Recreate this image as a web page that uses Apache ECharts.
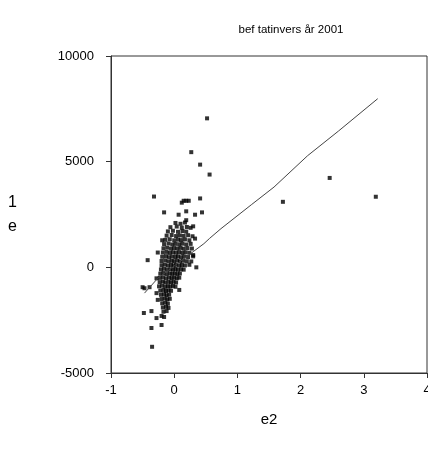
<!DOCTYPE html>
<html>
<head>
<meta charset="utf-8">
<script src="https://cdn.jsdelivr.net/npm/echarts@6.0.0/dist/echarts.min.js"></script>
<style>
  html, body { margin: 0; padding: 0; background: #fff; }
  #chart { width: 428px; height: 450px; }
</style>
</head>
<body>
<div id="chart"></div>
<script>
// residual pairs [e2, e1]
const outliers = [
  [0.52, 7050], [0.27, 5450], [0.41, 4860], [0.56, 4390], [-0.32, 3350],
  [1.72, 3100], [2.46, 4230], [3.19, 3340], [0.15, 3150], [0.19, 3150],
  [0.23, 3150], [0.12, 3060], [0.41, 3260], [-0.16, 2600], [0.19, 2650],
  [0.44, 2600], [0.07, 2490], [0.33, 2490], [0.19, 2230], [0.30, 1940],
  [-0.19, 1280], [0.33, 1360], [0.30, 580], [0.27, 280], [0.35, 0],
  [-0.42, 340], [-0.26, 700], [-0.47, -990], [-0.39, -940], [-0.28, -520],
  [0.08, -1070], [-0.28, -1220], [-0.26, -1540], [-0.48, -2160], [-0.36, -2070],
  [-0.28, -2400], [-0.20, -2300], [-0.16, -2350], [-0.36, -2870], [-0.20, -2730],
  [-0.35, -3760], [-0.50, -940]
];

const core = [
  [0.02, 2100], [0.10, 2060], [0.17, 2120],
  [-0.06, 1900], [0.04, 1930], [0.12, 1880], [0.20, 1910], [0.26, 1870],
  [-0.10, 1700], [-0.02, 1730], [0.06, 1680], [0.13, 1720], [0.19, 1690],
  [-0.12, 1500], [-0.04, 1530], [0.03, 1480], [0.09, 1510], [0.15, 1490], [0.22, 1520], [0.29, 1470],
  [-0.14, 1300], [-0.07, 1330], [0.00, 1280], [0.06, 1310], [0.11, 1290], [0.17, 1320], [0.24, 1280],
  [-0.16, 1100], [-0.09, 1130], [-0.03, 1080], [0.02, 1110], [0.08, 1090], [0.13, 1120], [0.19, 1080], [0.26, 1110],
  [-0.17, 900], [-0.11, 930], [-0.05, 880], [0.00, 910], [0.05, 890], [0.10, 920], [0.15, 880], [0.21, 910], [0.28, 890],
  [-0.18, 700], [-0.12, 730], [-0.07, 680], [-0.02, 710], [0.03, 690], [0.08, 720], [0.13, 680], [0.18, 710], [0.24, 690],
  [-0.19, 500], [-0.13, 530], [-0.08, 480], [-0.03, 510], [0.02, 490], [0.06, 520], [0.11, 480], [0.16, 510], [0.22, 490], [0.30, 520],
  [-0.20, 300], [-0.14, 330], [-0.09, 280], [-0.04, 310], [0.00, 290], [0.05, 320], [0.09, 280], [0.14, 310], [0.20, 290],
  [-0.20, 100], [-0.15, 130], [-0.10, 80], [-0.05, 110], [-0.01, 90], [0.03, 120], [0.08, 80], [0.12, 110], [0.17, 90], [0.24, 120],
  [-0.21, -100], [-0.16, -70], [-0.11, -120], [-0.06, -90], [-0.02, -110], [0.02, -80], [0.06, -120], [0.11, -90], [0.15, -110],
  [-0.22, -300], [-0.17, -270], [-0.12, -320], [-0.07, -290], [-0.03, -310], [0.01, -280], [0.05, -320], [0.09, -290],
  [-0.23, -500], [-0.18, -470], [-0.13, -520], [-0.08, -490], [-0.04, -510], [0.00, -480], [0.04, -520], [0.08, -490],
  [-0.23, -700], [-0.18, -670], [-0.14, -720], [-0.09, -690], [-0.05, -710], [-0.01, -680], [0.03, -720],
  [-0.24, -900], [-0.19, -870], [-0.14, -920], [-0.10, -890], [-0.06, -910], [-0.02, -880], [0.02, -920],
  [-0.22, -1100], [-0.17, -1070], [-0.13, -1120], [-0.09, -1090], [-0.05, -1110],
  [-0.21, -1300], [-0.16, -1270], [-0.12, -1320], [-0.08, -1290],
  [-0.20, -1500], [-0.15, -1470], [-0.11, -1520], [-0.07, -1490],
  [-0.19, -1700], [-0.14, -1670], [-0.10, -1720],
  [-0.18, -1900], [-0.13, -1870], [-0.09, -1920],
  [-0.17, -2100], [-0.12, -2070]
];

// fitted curve
const fitLine = [
  [-0.47, -1220], [-0.26, -520], [0.30, 740], [0.47, 1120], [0.56, 1370],
  [0.74, 1830], [1.22, 2960], [1.58, 3800], [2.11, 5280], [2.60, 6450], [3.22, 7980]
];

const FONT = 'Liberation Sans, Arial, sans-serif';

const chart = echarts.init(document.getElementById('chart'), null, { renderer: 'canvas' });

chart.setOption({
  animation: false,
  backgroundColor: '#fff',
  title: {
    text: 'bef tatinvers år 2001',
    left: 286,
    top: 19,
    textAlign: 'center',
    textStyle: { fontFamily: FONT, fontSize: 11.5, fontWeight: 'normal', color: '#000' },
  },
  grid: {
    left: 111,
    top: 56,
    width: 316,
    height: 317,
    show: true,
    borderColor: '#333',
    borderWidth: 1,
    containLabel: false,
    outerBoundsMode: 'none',
  },
  xAxis: {
    type: 'value',
    min: -1,
    max: 4,
    interval: 1,
    name: 'e2',
    nameLocation: 'middle',
    nameGap: 39,
    nameTextStyle: { fontFamily: FONT, fontSize: 15, color: '#000' },
    axisLine: { onZero: false, lineStyle: { color: '#333' } },
    axisTick: { length: 5, lineStyle: { color: '#333' } },
    axisLabel: {
      fontFamily: FONT, fontSize: 13, color: '#000', margin: 11,
      showMaxLabel: true, formatter: (v) => String(v),
    },
    splitLine: { show: false },
  },
  yAxis: {
    type: 'value',
    min: -5000,
    max: 10000,
    interval: 5000,
    name: '1\ne',
    nameLocation: 'middle',
    nameRotate: 0,
    nameGap: 94,
    nameTextStyle: { fontFamily: FONT, fontSize: 16, lineHeight: 24, color: '#000' },
    axisLine: { onZero: false, lineStyle: { color: '#333' } },
    axisTick: { length: 5, lineStyle: { color: '#333' } },
    axisLabel: { fontFamily: FONT, fontSize: 13, color: '#000', margin: 17, formatter: (v) => String(v) },
    splitLine: { show: false },
  },
  series: [
    {
      type: 'scatter',
      symbol: 'rect',
      symbolSize: 4,
      itemStyle: { color: '#000' },
      data: core.concat(outliers),
    },
    {
      type: 'line',
      showSymbol: false,
      smooth: false,
      lineStyle: { color: '#444', width: 1 },
      data: fitLine,
    },
  ],
});
</script>
</body>
</html>
